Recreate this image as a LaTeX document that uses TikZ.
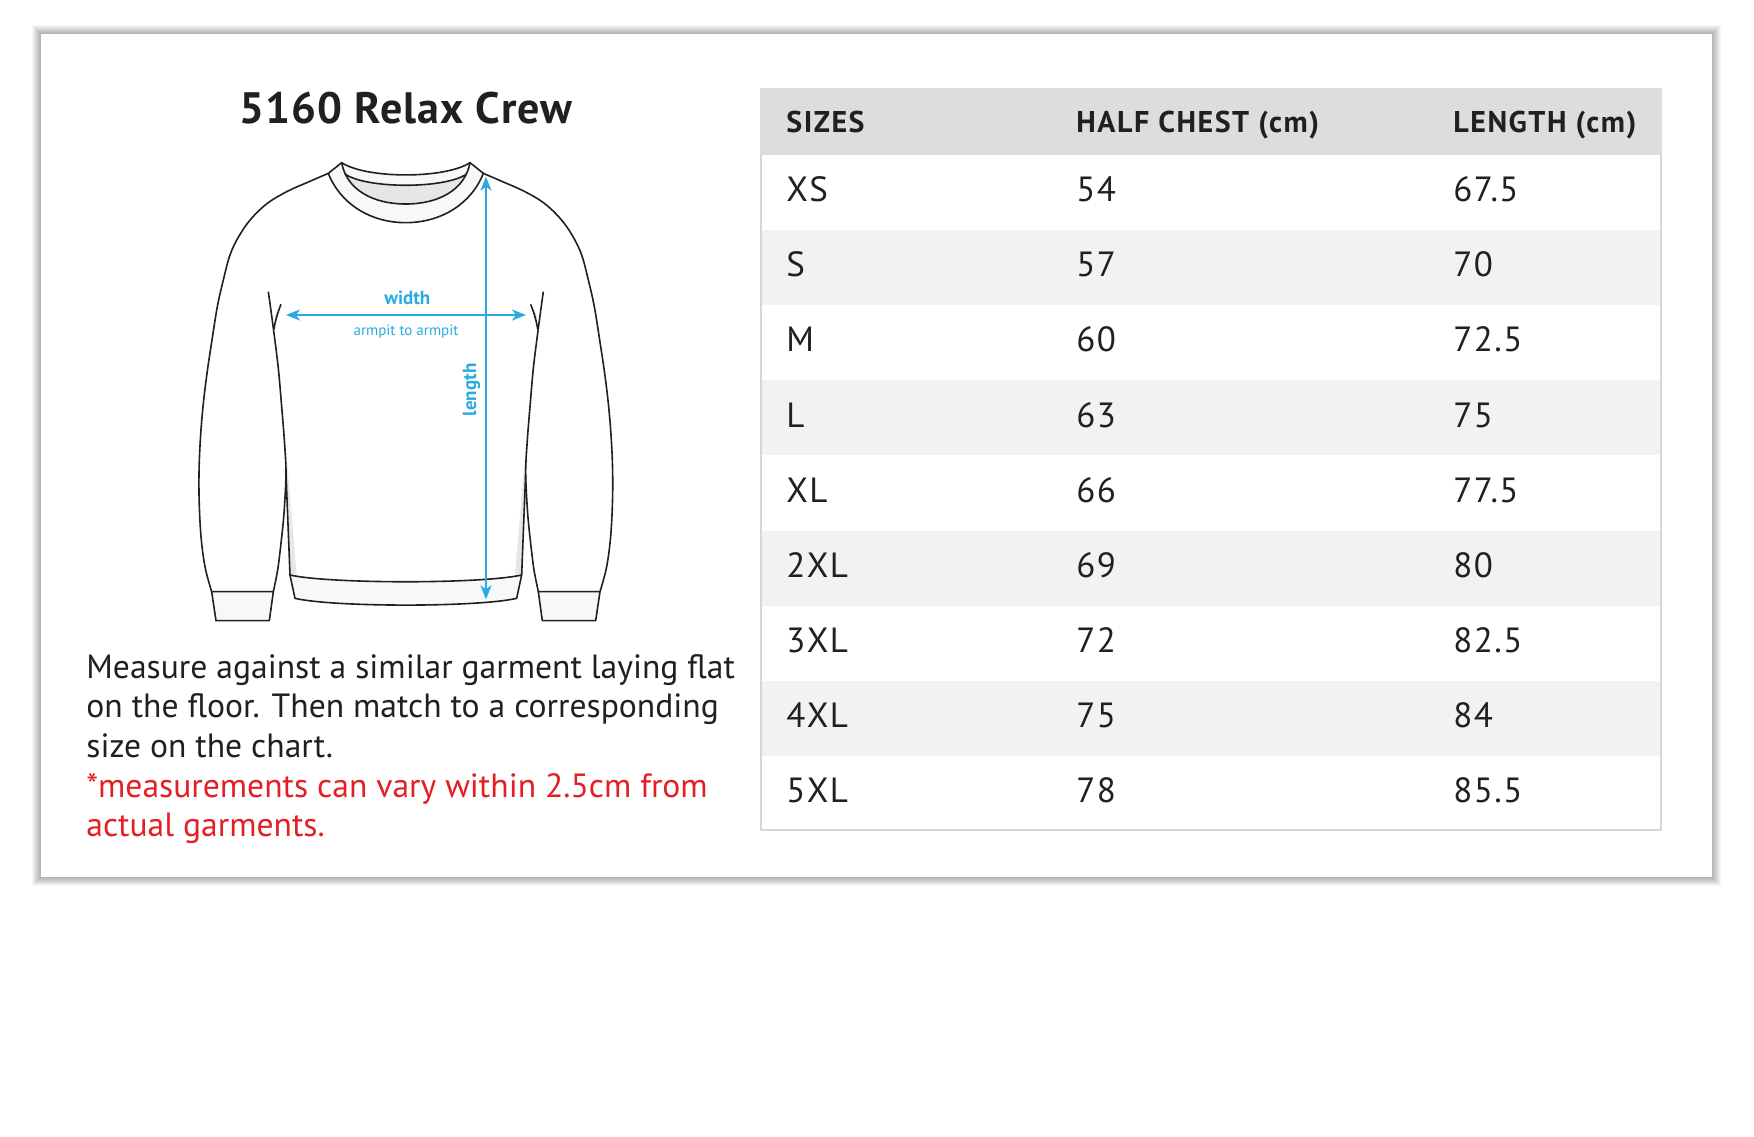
\documentclass[tikz,border=0pt]{standalone}
\usepackage{fontspec}
\setmainfont{PT Sans}
\usetikzlibrary{arrows.meta}
\definecolor{ink}{HTML}{231F20}
\definecolor{cyanm}{HTML}{29ABE2}
\definecolor{redm}{HTML}{E31E24}
\definecolor{hdr}{HTML}{DCDDDF}
\definecolor{alt}{HTML}{F2F2F2}
\definecolor{tblline}{HTML}{D6D6D6}
\definecolor{trim}{HTML}{F7F8FA}
\definecolor{neckgrey}{HTML}{E6E6E6}
\begin{document}
\begin{tikzpicture}[x=0.5pt,y=-0.5pt,
  outline/.style={draw=ink, line width=0.8pt, line join=round},
  measure/.style={draw=cyanm, line width=0.85pt,
    {Stealth[length=7pt,width=5.5pt,inset=2pt]}-{Stealth[length=7pt,width=5.5pt,inset=2pt]}},
  hdrtext/.style={font=\fontsize{15}{17}\selectfont\bfseries\addfontfeatures{LetterSpace=5}, text=ink, inner sep=0pt, anchor=base west},
  celltext/.style={font=\fontsize{17.5}{20}\selectfont\addfontfeatures{LetterSpace=4}, text=ink, inner sep=0pt, anchor=base west},
  bodytext/.style={font=\fontsize{16.8}{20}\selectfont, inner sep=0pt, anchor=base west},
  lbl/.style={text=cyanm, inner sep=0pt, anchor=base},
]
\useasboundingbox (0,0) rectangle (1754,1136);
\fill[white] (0,0) rectangle (1754,1136);
% card shadow and card
\foreach \i in {1,...,9} {\fill[black, opacity=0.035] ({41-\i},{34-\i}) rectangle ({1712+\i},{877+\i});}
\fill[white] (41,34) rectangle (1712,877);

% title
\node[font=\fontsize{22}{26}\selectfont\bfseries\addfontfeatures{LetterSpace=2.5}, text=ink, inner sep=0pt, anchor=base] (title) at (406,123) {5160 Relax Crew};

% garment
\begin{scope}[shift={(180,140)}, scale=1/3]
  % fills
  \fill[trim] (445,100) -- (485,68) .. controls (560,117) and (795,117) .. (870,68) -- (910,100)
     .. controls (875,190) and (785,248) .. (677,248) .. controls (570,248) and (480,190) .. (445,100) -- cycle;
  \begin{scope}
    \clip (485,68) .. controls (500,150) and (580,192) .. (677,192) .. controls (775,192) and (855,150) .. (870,68) -- cycle;
    \fill[neckgrey] (400,60) -- (400,102) -- (495,102) .. controls (560,147) and (795,147) .. (860,102) -- (950,102) -- (950,300) -- (400,300) -- cycle;
  \end{scope}
  \fill[neckgrey] (316,905) -- (350,1303) -- (330,1303) -- (318,1000) -- cycle;
  \fill[neckgrey] (1039,905) -- (1005,1303) -- (1025,1303) -- (1037,1000) -- cycle;
  \fill[neckgrey] (300,500) -- (290,545) -- (283,530) -- cycle;
  \fill[neckgrey] (1055,500) -- (1065,545) -- (1072,530) -- cycle;
  % collar outlines
  \draw[outline] (445,100) -- (485,68) .. controls (560,117) and (795,117) .. (870,68) -- (910,100);
  \draw[outline] (445,100) .. controls (480,190) and (570,248) .. (677,248) .. controls (785,248) and (875,190) .. (910,100);
  \draw[outline] (485,68) .. controls (500,150) and (580,192) .. (677,192) .. controls (775,192) and (855,150) .. (870,68);
  \draw[outline] (495,102) .. controls (560,147) and (795,147) .. (860,102);
  % outer body/sleeve
  \draw[outline] plot[smooth, tension=0.6] coordinates {(95,1355) (76,1285) (64,1200) (58,1100) (57,1000) (61,900) (69,800) (81,700) (96,600) (112,500) (130,420) (150,345) (176,290) (212,238) (262,190) (322,154) (385,126) (445,100)};
  \draw[outline] plot[smooth, tension=0.6] coordinates {(1260,1355) (1279,1285) (1291,1200) (1297,1100) (1298,1000) (1294,900) (1286,800) (1274,700) (1259,600) (1243,500) (1225,420) (1205,345) (1179,290) (1143,238) (1093,190) (1033,154) (970,126) (910,100)};
  % inner sleeve lines
  \draw[outline] plot[smooth, tension=0.5] coordinates {(265,455) (274,520) (282,580) (295,685) (305,800) (313,900) (318,1000) (312,1120) (303,1210) (293,1290) (280,1355)};
  \draw[outline] plot[smooth, tension=0.5] coordinates {(1090,455) (1081,520) (1073,580) (1060,685) (1050,800) (1042,900) (1037,1000) (1043,1120) (1052,1210) (1062,1290) (1075,1355)};
  \draw[outline] (303,493) .. controls (292,520) and (285,545) .. (282,568);
  \draw[outline] (1052,493) .. controls (1063,520) and (1070,545) .. (1073,568);
  \draw[outline] (318,1000) -- (330,1305);
  \draw[outline] (1037,1000) -- (1025,1305);
  % cuffs and hem
  \filldraw[outline, fill=trim] (95,1355) -- (280,1355) -- (268,1442) -- (108,1442) -- cycle;
  \filldraw[outline, fill=trim] (1075,1355) -- (1260,1355) -- (1247,1442) -- (1087,1442) -- cycle;
  \filldraw[outline, fill=trim] (330,1305) .. controls (450,1332) and (905,1332) .. (1025,1305) -- (1010,1375)
     .. controls (895,1402) and (460,1402) .. (345,1375) -- cycle;
  % measures
  \coordinate (wL) at (318,525);
  \coordinate (wR) at (1038,525);
  \coordinate (lT) at (918,110);
  \coordinate (lB) at (918,1378);
  \draw[measure] (wL) -- (wR);
  \draw[measure] (lT) -- (lB);
  \node[lbl, font=\fontsize{9.5}{11}\selectfont\bfseries] (wlab) at (682,492) {width};
  \node[lbl, font=\fontsize{7.5}{9}\selectfont] (alab) at (678,585) {armpit to armpit};
  \node[lbl, font=\fontsize{9.5}{11}\selectfont\bfseries, rotate=90] (llab) at (888,750) {length};
\end{scope}

% description
\node[bodytext, text=ink] (d1) at (86,678) {Measure against a similar garment laying flat};
\node[bodytext, text=ink] (d2) at (86,717) {on the floor. Then match to a corresponding};
\node[bodytext, text=ink] (d3) at (86,757) {size on the chart.};
\node[bodytext, text=redm] (d4) at (86,797) {*measurements can vary within 2.5cm from};
\node[bodytext, text=redm] (d5) at (86,836) {actual garments.};

% table
\fill[hdr] (760,88) rectangle (1662,155);
\foreach \r in {1,3,5,7} {\fill[alt] (760,{155+\r*75.11}) rectangle (1662,{155+(\r+1)*75.11});}
\draw[tblline, line width=0.8pt] (761,155) -- (761,830) -- (1661,830) -- (1661,155);
\node[hdrtext] (h1) at (786,132.3) {SIZES};
\node[hdrtext] (h2) at (1076,132.3) {HALF CHEST (cm)};
\node[hdrtext] (h3) at (1453,132.3) {LENGTH (cm)};
\foreach \s/\c/\l [count=\i from 0] in {XS/54/67.5, S/57/70, M/60/72.5, L/63/75, XL/66/77.5, 2XL/69/80, 3XL/72/82.5, 4XL/75/84, 5XL/78/85.5} {
  \node[celltext] (s\i) at (786,{155+\i*75.11+46.7}) {\s};
  \node[celltext] (c\i) at (1076,{155+\i*75.11+46.7}) {\c};
  \node[celltext] (l\i) at (1453,{155+\i*75.11+46.7}) {\l};
}
\end{tikzpicture}
\end{document}
